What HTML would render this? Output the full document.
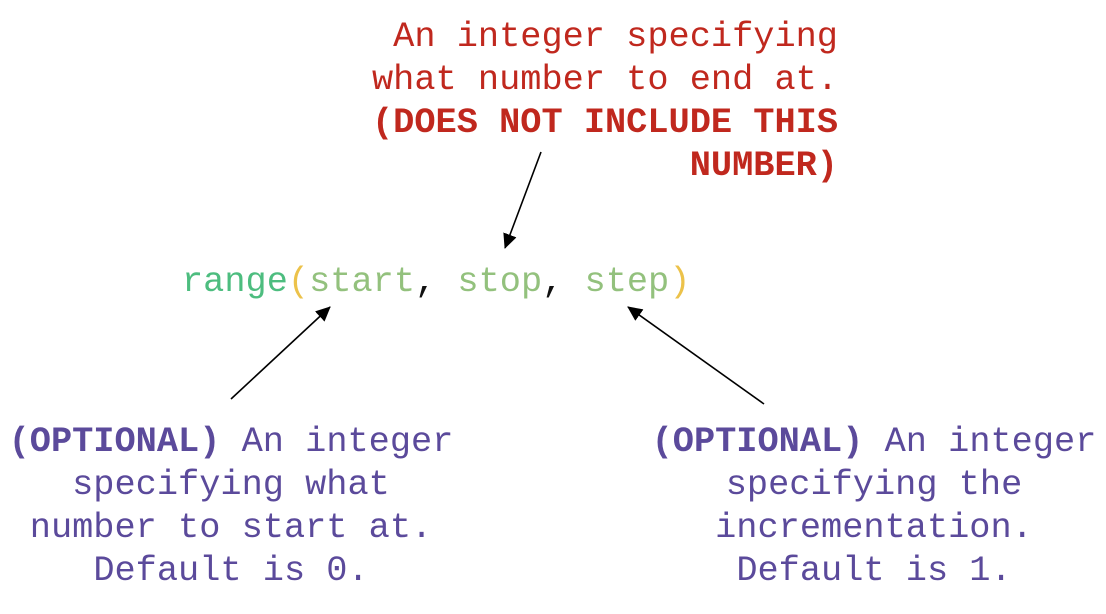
<!DOCTYPE html>
<html><head><style>
html,body{margin:0;padding:0;background:#fff;width:1106px;height:614px;overflow:hidden;position:relative}
.t{position:absolute;font-family:"Liberation Mono",monospace;font-size:35.3px;line-height:43px;white-space:pre}
.r{color:#c0281e}
.p{color:#5b4a9b}
b{font-weight:bold}
</style></head><body>
<div class="t r" style="right:268px;top:16px;text-align:right">An integer specifying
what number to end at.
<b>(DOES NOT INCLUDE THIS
NUMBER)</b></div>
<div class="t" style="left:182px;top:261px"><span style="color:#4dbd7f">range</span><span style="color:#ecc24a">(</span><span style="color:#93c17d">start</span><span style="color:#111">, </span><span style="color:#93c17d">stop</span><span style="color:#111">, </span><span style="color:#93c17d">step</span><span style="color:#ecc24a">)</span></div>
<div class="t p" style="left:0;width:462px;top:421px;text-align:center"><b>(OPTIONAL)</b> An integer
specifying what
number to start at.
Default is 0.</div>
<div class="t p" style="left:644px;width:460px;top:421px;text-align:center"><b>(OPTIONAL)</b> An integer
specifying the
incrementation.
Default is 1.</div>
<svg width="1106" height="614" style="position:absolute;left:0;top:0">
<defs><marker id="a" markerWidth="16" markerHeight="16" refX="14" refY="7" orient="auto" markerUnits="userSpaceOnUse"><path d="M0,0 L15,7 L0,14 z" fill="#000"/></marker></defs>
<g stroke="#000" stroke-width="1.6" fill="none">
<line x1="541" y1="152" x2="505" y2="248" marker-end="url(#a)"/>
<line x1="231" y1="399" x2="330" y2="307" marker-end="url(#a)"/>
<line x1="764" y1="404" x2="628" y2="307" marker-end="url(#a)"/>
</g></svg>
</body></html>
